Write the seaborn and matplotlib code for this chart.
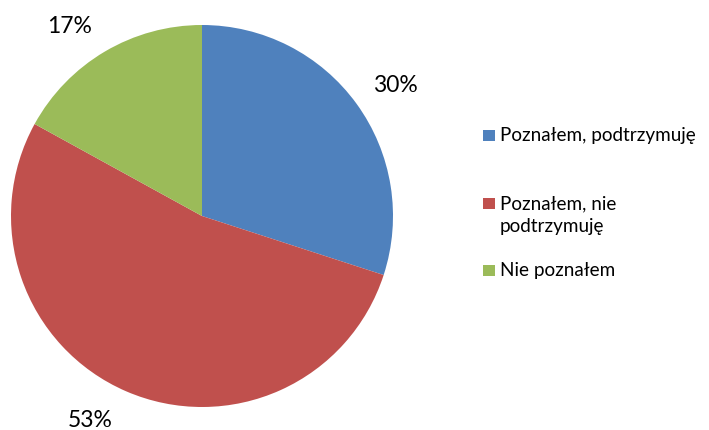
import matplotlib
matplotlib.use("Agg")
import matplotlib.pyplot as plt
from matplotlib.patches import Rectangle
import seaborn as sns

categories = ["Poznałem, podtrzymuję", "Poznałem, nie\npodtrzymuję", "Nie poznałem"]
values = [30, 53, 17]
colors = ["#4F81BD", "#C0504D", "#9BBB59"]

sns.set_theme(style="white")
plt.rcParams['font.family'] = ['Lato', 'DejaVu Sans']

W, H = 709, 430
fig = plt.figure(figsize=(W / 100, H / 100), dpi=100)
fig.patch.set_facecolor("white")

cx, cy, r = 202, 216, 191
ax = fig.add_axes([(cx - r) / W, (H - cy - r) / H, 2 * r / W, 2 * r / H])
wedges, texts, autotexts = ax.pie(
    values, colors=colors, startangle=90, counterclock=False, radius=1,
    autopct=lambda p: f"{p:.0f}%", pctdistance=1.21,
    wedgeprops=dict(linewidth=0),
    textprops=dict(fontsize=16.5, color="#000000"),
)
ax.set_xlim(-1, 1)
ax.set_ylim(-1, 1)
ax.set_aspect("equal")
ax.axis("off")

# label placement (pixel: center x, baseline y) for each slice label
label_px = [(395, 92), (90, 427), (70, 33)]
for t, (lx, ly) in zip(autotexts, label_px):
    t.set_transform(fig.transFigure)
    t.set_position((lx / W, (H - ly) / H))
    t.set_ha("center")
    t.set_va("baseline")

# manual legend layout (pixel baseline of first line of each entry)
legend_base = [141, 209, 276]
line_step = 23
for wdg, lab, yb in zip(wedges, categories, legend_base):
    fig.patches.append(Rectangle((483 / W, (H - yb) / H), 11.5 / W, 11.5 / H,
                                 transform=fig.transFigure, facecolor=wdg.get_facecolor(),
                                 edgecolor="none"))
    for i, line in enumerate(lab.split("\n")):
        fig.text(500 / W, (H - yb - i * line_step) / H, line, fontsize=13.6,
                 va="baseline", ha="left", color="#000000")

fig.savefig("out.png", dpi=100, facecolor="white")
